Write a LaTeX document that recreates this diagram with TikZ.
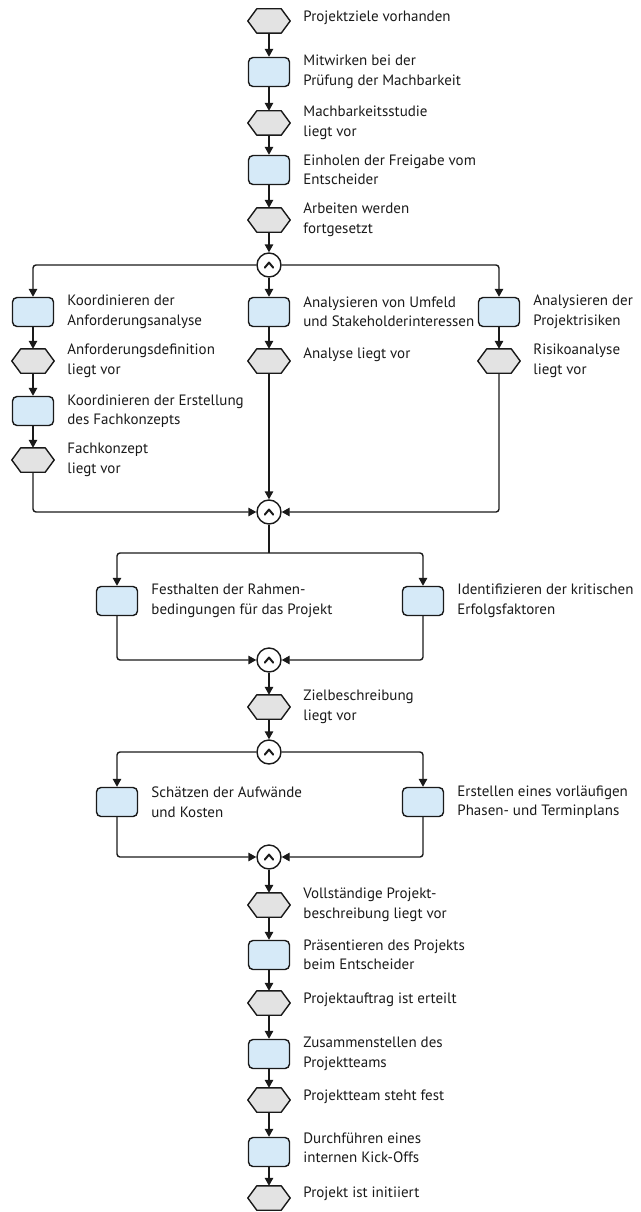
\documentclass[tikz,border=0pt]{standalone}
\usepackage{fontspec}
\setmainfont{PT Sans}
\usetikzlibrary{arrows.meta,calc}
\definecolor{boxfill}{HTML}{D6EAF8}
\definecolor{hexfill}{HTML}{E3E3E3}
\definecolor{ink}{HTML}{1A1A1A}
\tikzset{
  taskbox/.style={draw=ink, fill=boxfill, line width=1.4pt, rounded corners=4.5pt,
    minimum width=41pt, minimum height=29pt, inner sep=0},
  evt/.style={minimum width=42pt, minimum height=24pt, inner sep=0},
  evtshape/.style={draw=ink, fill=hexfill, line width=1.4pt, line join=round},
  andgate/.style={circle, draw=ink, fill=white, line width=1.4pt, minimum size=24pt, inner sep=0},
  flow/.style={draw=ink, line width=1.4pt, rounded corners=3pt, -{Triangle[length=8pt,width=8.5pt]}},
  plain/.style={draw=ink, line width=1.4pt, rounded corners=3pt},
  lbl/.style={anchor=west, align=left, inner sep=0, text=ink, font=\fontsize{15}{19.5}\selectfont},
}
\begin{document}
\begin{tikzpicture}[x=1pt,y=-1pt]
\useasboundingbox (0,0) rectangle (640,1212);

% ---- main column, top part
\node[evt]     (h1) at (269,21)  {};
\node[taskbox] (b1) at (269,72)  {};
\node[evt]     (h2) at (269,123) {};
\node[taskbox] (b2) at (269,170) {};
\node[evt]     (h3) at (269,220) {};
\node[andgate] (a1) at (269,265) {};

% ---- three parallel branches
\node[taskbox] (b3L) at (33,312)  {};
\node[taskbox] (b3M) at (269,312) {};
\node[taskbox] (b3R) at (499,312) {};
\node[evt]     (h4L) at (33,361)  {};
\node[evt]     (h4M) at (269,361) {};
\node[evt]     (h4R) at (499,361) {};
\node[taskbox] (b4)  at (33,411)  {};
\node[evt]     (h5)  at (33,460)  {};
\node[andgate] (a2)  at (269,512) {};
\coordinate    (s1)  at (269,553);

% ---- two parallel tasks
\node[taskbox] (b5L) at (117,601) {};
\node[taskbox] (b5R) at (423,601) {};
\node[andgate] (a3)  at (269,660) {};
\node[evt]     (h6)  at (269,707) {};
\node[andgate] (a4)  at (269,752) {};
\node[taskbox] (b6L) at (117,802) {};
\node[taskbox] (b6R) at (423,802) {};
\node[andgate] (a5)  at (269,857) {};

% ---- main column, bottom part
\node[evt]     (h7)  at (269,905)  {};
\node[taskbox] (b7)  at (269,955)  {};
\node[evt]     (h8)  at (269,1003) {};
\node[taskbox] (b8)  at (269,1054) {};
\node[evt]     (h9)  at (269,1100) {};
\node[taskbox] (b9)  at (269,1152) {};
\node[evt]     (h10) at (269,1198) {};

% hexagonal event outlines
\foreach \n in {h1,h2,h3,h4L,h4M,h4R,h5,h6,h7,h8,h9,h10}{
  \filldraw[evtshape] (\n.west) -- ([xshift=9pt]\n.north west) -- ([xshift=-9pt]\n.north east)
    -- (\n.east) -- ([xshift=-9pt]\n.south east) -- ([xshift=9pt]\n.south west) -- cycle;
}

% AND connector marks
\foreach \n in {a1,a2,a3,a4,a5}{
  \draw[ink, line width=2pt, line cap=round, line join=round]
    ([shift={(-4.2,2.6)}]\n.center) -- ([shift={(0,-2.4)}]\n.center) -- ([shift={(4.2,2.6)}]\n.center);
}

% ---- connectors
\draw[flow] (h1) -- (b1);
\draw[flow] (b1) -- (h2);
\draw[flow] (h2) -- (b2);
\draw[flow] (b2) -- (h3);
\draw[flow] (h3) -- (a1);

\draw[flow] (a1.west) -| (b3L.north);
\draw[flow] (a1) -- (b3M);
\draw[flow] (a1.east) -| (b3R.north);

\draw[flow] (b3L) -- (h4L);
\draw[flow] (h4L) -- (b4);
\draw[flow] (b4) -- (h5);
\draw[flow] (h5.south) |- (a2.west);
\draw[flow] (b3M) -- (h4M);
\draw[flow] (h4M) -- (a2);
\draw[flow] (b3R) -- (h4R);
\draw[flow] (h4R.south) |- (a2.east);

\draw[plain] (a2.south) -- (s1);
\draw[flow] (s1) -| (b5L.north);
\draw[flow] (s1) -| (b5R.north);
\draw[flow] (b5L.south) |- (a3.west);
\draw[flow] (b5R.south) |- (a3.east);

\draw[flow] (a3) -- (h6);
\draw[flow] (h6) -- (a4);
\draw[flow] (a4.west) -| (b6L.north);
\draw[flow] (a4.east) -| (b6R.north);
\draw[flow] (b6L.south) |- (a5.west);
\draw[flow] (b6R.south) |- (a5.east);

\draw[flow] (a5) -- (h7);
\draw[flow] (h7) -- (b7);
\draw[flow] (b7) -- (h8);
\draw[flow] (h8) -- (b8);
\draw[flow] (b8) -- (h9);
\draw[flow] (h9) -- (b9);
\draw[flow] (b9) -- (h10);

% ---- labels
\node[lbl, yshift=3pt] (t1) at ([xshift=13pt]h1.east) {Projektziele vorhanden};
\node[lbl] (t2) at ([xshift=13pt]b1.east) {Mitwirken bei der\\Prüfung der Machbarkeit};
\node[lbl] (t3) at ([xshift=13pt]h2.east) {Machbarkeitsstudie\\liegt vor};
\node[lbl] (t4) at ([xshift=13pt]b2.east) {Einholen der Freigabe vom\\Entscheider};
\node[lbl] (t5) at ([xshift=13pt]h3.east) {Arbeiten werden\\fortgesetzt};
\node[lbl] (t6) at ([xshift=13pt]b3L.east) {Koordinieren der\\Anforderungsanalyse};
\node[lbl] (t7) at ([xshift=13pt]b3M.east) {Analysieren von Umfeld\\und Stakeholderinteressen};
\node[lbl] (t8) at ([xshift=13pt]b3R.east) {Analysieren der\\Projektrisiken};
\node[lbl] (t9) at ([xshift=13pt]h4L.east) {Anforderungsdefinition\\liegt vor};
\node[lbl, yshift=6pt] (t10) at ([xshift=13pt]h4M.east) {Analyse liegt vor};
\node[lbl] (t11) at ([xshift=13pt]h4R.east) {Risikoanalyse\\liegt vor};
\node[lbl] (t12) at ([xshift=13pt]b4.east) {Koordinieren der Erstellung\\des Fachkonzepts};
\node[lbl] (t13) at ([xshift=13pt]h5.east) {Fachkonzept\\liegt vor};
\node[lbl] (t14) at ([xshift=13pt]b5L.east) {Festhalten der Rahmen-\\bedingungen für das Projekt};
\node[lbl] (t15) at ([xshift=13pt]b5R.east) {Identifizieren der kritischen\\Erfolgsfaktoren};
\node[lbl] (t16) at ([xshift=13pt]h6.east) {Zielbeschreibung\\liegt vor};
\node[lbl] (t17) at ([xshift=13pt]b6L.east) {Schätzen der Aufwände\\und Kosten};
\node[lbl] (t18) at ([xshift=13pt]b6R.east) {Erstellen eines vorläufigen\\Phasen- und Terminplans};
\node[lbl] (t19) at ([xshift=13pt]h7.east) {Vollständige Projekt-\\beschreibung liegt vor};
\node[lbl] (t20) at ([xshift=13pt]b7.east) {Präsentieren des Projekts\\beim Entscheider};
\node[lbl, yshift=3pt] (t21) at ([xshift=13pt]h8.east) {Projektauftrag ist erteilt};
\node[lbl] (t22) at ([xshift=13pt]b8.east) {Zusammenstellen des\\Projektteams};
\node[lbl, yshift=3pt] (t23) at ([xshift=13pt]h9.east) {Projektteam steht fest};
\node[lbl, yshift=4pt] (t24) at ([xshift=13pt]b9.east) {Durchführen eines\\internen Kick-Offs};
\node[lbl, yshift=4pt] (t25) at ([xshift=13pt]h10.east) {Projekt ist initiiert};
\end{tikzpicture}
\end{document}
